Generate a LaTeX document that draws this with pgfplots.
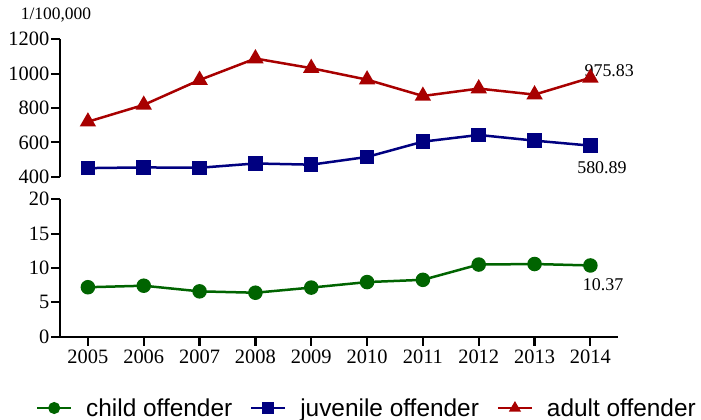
\documentclass[border=0pt]{standalone}
\usepackage{pgfplots}
\pgfplotsset{compat=1.18}
\usepackage{fontspec}
\setmainfont{Liberation Serif}
\newfontfamily\arialfont{Liberation Sans}
\definecolor{cred}{RGB}{168,0,0}
\definecolor{cblue}{RGB}{0,0,128}
\definecolor{cgreen}{RGB}{0,100,0}
\begin{document}
\begin{tikzpicture}
\useasboundingbox (0,0) rectangle (701bp,420bp);
\pgfplotsset{
  common/.style={
    scale only axis, width=558.3bp, height=137.4bp,
    xmin=2004.5, xmax=2014.5,
    /pgf/number format/assume math mode=true,
    /pgf/number format/1000 sep={},
    tick label style={font=\fontsize{20.5}{24}\selectfont},
    axis line style={line width=2.2bp, black},
    tick style={line width=2.2bp, black},
    major tick length=9bp,
    tick align=outside,
    yticklabel style={inner xsep=1.5bp},
    xticklabel style={inner ysep=4bp},
    clip=false,
    legend image code/.code={\draw[mark repeat=2,mark phase=2] plot coordinates {(0bp,0bp)(17bp,0bp)(34bp,0bp)};},
  },
  sc/.style={line width=2.5bp, mark options={solid}},
}
% bottom axis
\begin{axis}[common, at={(60bp,83.3bp)}, anchor=south west,
  ymin=0, ymax=20, ytick={0,5,10,15,20},
  xtick={2005,2006,...,2014},
  axis y line*=left, axis x line*=bottom,
  legend columns=3,
  legend image post style={line width=2bp, mark size=5bp},
  legend style={draw=none, fill=none, at={(-0.043,-0.519)}, anchor=west, inner sep=0pt,
    font=\arialfont\fontsize{24.5}{27}\selectfont,
    /tikz/every odd column/.append style={column sep=12bp},
    /tikz/every even column/.append style={column sep=16bp}},
]
\addplot[sc, color=cgreen, mark=*, mark size=6bp] coordinates {
(2005,7.2) (2006,7.42) (2007,6.6) (2008,6.4) (2009,7.15) (2010,7.95) (2011,8.28) (2012,10.5) (2013,10.58) (2014,10.37)};
\addlegendentry{child offender}
\addlegendimage{sc, color=cblue, mark=square*, mark size=6bp}
\addlegendentry{juvenile offender}
\addlegendimage{sc, color=cred, mark=triangle*, mark size=7bp}
\addlegendentry{adult offender}
\node[anchor=base west, font=\fontsize{18}{21}\selectfont, inner sep=0pt, xshift=-7.7bp, yshift=-25.2bp] at (axis cs:2014,10.37) {10.37};
\end{axis}
% top axis
\begin{axis}[common, at={(60bp,243.3bp)}, anchor=south west,
  ymin=400, ymax=1200, ytick={400,600,...,1200},
  xtick=\empty,
  axis y line*=left, axis x line=none,
]
\addplot[sc, color=cblue, mark=square*, mark size=6bp] coordinates {
(2005,450) (2006,454) (2007,452) (2008,477) (2009,470) (2010,515) (2011,604) (2012,643) (2013,610) (2014,580.89)};
\addplot[sc, color=cred, mark=triangle*, mark size=7bp] coordinates {
(2005,720) (2006,818) (2007,963) (2008,1088) (2009,1032) (2010,965) (2011,870) (2012,913) (2013,878) (2014,975.83)};
\node[anchor=base west, font=\fontsize{18}{21}\selectfont, inner sep=0pt, xshift=-6bp, yshift=1bp] at (axis cs:2014,975.83) {975.83};
\node[anchor=base west, font=\fontsize{18}{21}\selectfont, inner sep=0pt, xshift=-13.3bp, yshift=-27.6bp] at (axis cs:2014,580.89) {580.89};
\end{axis}
\node[anchor=west, inner sep=0pt, font=\fontsize{17.5}{20}\selectfont] at (20.7bp,404.5bp) {1/100,000};
\end{tikzpicture}
\end{document}
